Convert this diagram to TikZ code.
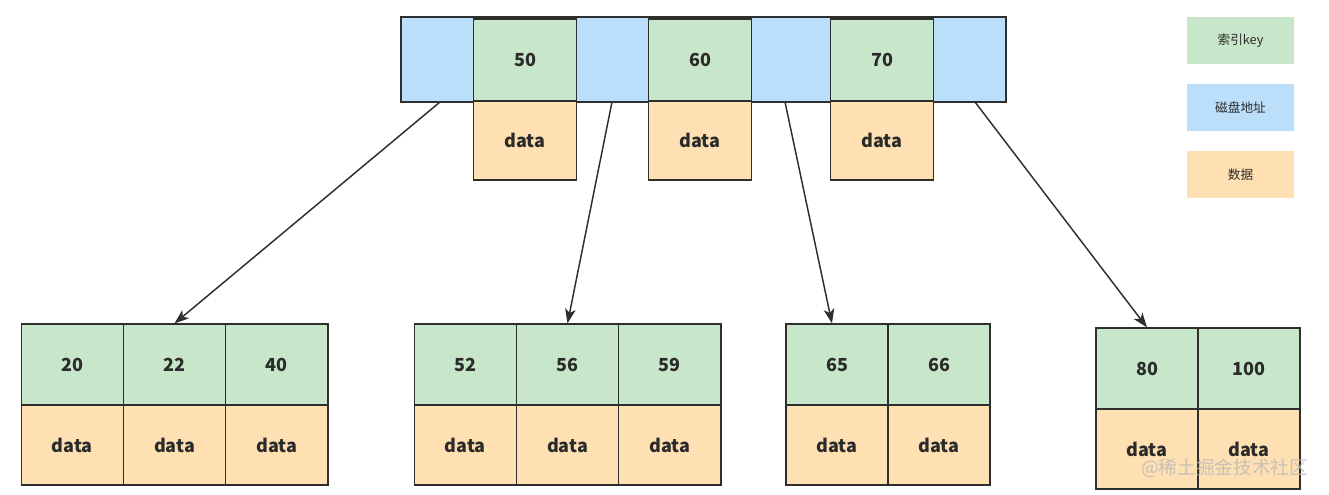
\documentclass[tikz,border=0pt]{standalone}
\usepackage{fontspec}
\setmainfont{Noto Sans CJK SC}
\usetikzlibrary{arrows.meta}
\definecolor{keyc}{HTML}{C8E6C9}
\definecolor{addrc}{HTML}{BBDEFB}
\definecolor{datac}{HTML}{FFE0B2}
\definecolor{linec}{HTML}{2E2E2E}
\definecolor{txtc}{HTML}{2B2B2B}
\tikzset{
  cell/.style={rectangle, draw=linec, line width=0.8pt, inner sep=0pt, text=txtc,
    font=\fontsize{13.5}{15}\selectfont\bfseries},
  keycell/.style={cell, fill=keyc, minimum width=76.75pt, minimum height=60.75pt},
  datacell/.style={cell, fill=datac, minimum width=76.75pt, minimum height=60pt},
  addrbar/.style={rectangle, draw=linec, line width=0.8pt, fill=addrc, inner sep=0pt,
    minimum width=453.75pt, minimum height=63.75pt},
  legend/.style={rectangle, inner sep=0pt, minimum width=80.25pt, minimum height=35.25pt,
    text=txtc, font=\fontsize{9.5}{11}\selectfont},
  link/.style={draw=linec, line width=1.1pt, -{Stealth[length=11pt,width=8pt,inset=3pt]}},
  wmtext/.style={text=gray!55, opacity=0.8, font=\fontsize{14}{16}\selectfont}
}
\begin{document}
\begin{tikzpicture}[x=0.75pt,y=-0.75pt]
\useasboundingbox (0,0) rectangle (1329,495);
% root node
\node[addrbar] (root) at (703.5,59.5) {};
\node[keycell, minimum height=61.5pt] (k50) at (525,60) {50};
\node[keycell, minimum height=61.5pt] (k60) at (700,60) {60};
\node[keycell, minimum height=61.5pt] (k70) at (882,60) {70};
\node[datacell, minimum height=59.25pt] (d50) at (525,140.5) {data};
\node[datacell, minimum height=59.25pt] (d60) at (700,140.5) {data};
\node[datacell, minimum height=59.25pt] (d70) at (882,140.5) {data};
% leaf 1
\node[keycell] (a1) at (72.2,364.5) {20};
\node[keycell] (a2) at (174.5,364.5) {22};
\node[keycell] (a3) at (276.8,364.5) {40};
\node[datacell] (ad1) at (72.2,445) {data};
\node[datacell] (ad2) at (174.5,445) {data};
\node[datacell] (ad3) at (276.8,445) {data};
% leaf 2
\node[keycell] (b1) at (465.2,364.5) {52};
\node[keycell] (b2) at (567.5,364.5) {56};
\node[keycell] (b3) at (669.8,364.5) {59};
\node[datacell] (bd1) at (465.2,445) {data};
\node[datacell] (bd2) at (567.5,445) {data};
\node[datacell] (bd3) at (669.8,445) {data};
% leaf 3
\node[keycell, minimum width=76.5pt] (c1) at (837,364.5) {65};
\node[keycell, minimum width=76.5pt] (c2) at (939,364.5) {66};
\node[datacell, minimum width=76.5pt] (cd1) at (837,445) {data};
\node[datacell, minimum width=76.5pt] (cd2) at (939,445) {data};
% leaf 4
\node[keycell, minimum width=76.5pt] (e1) at (1147,368.5) {80};
\node[keycell, minimum width=76.5pt] (e2) at (1249,368.5) {100};
\node[datacell, minimum width=76.5pt] (ed1) at (1147,449) {data};
\node[datacell, minimum width=76.5pt] (ed2) at (1249,449) {data};
% pointers
\coordinate (p0) at (440,102);
\coordinate (p1) at (612,102);
\coordinate (p2) at (785,102);
\coordinate (p3) at (975,102);
\draw[link] (p0) -- (a2.north);
\draw[link] (p1) -- (b2.north);
\draw[link] (p2) -- ([xshift=-3.75pt]c1.north);
\draw[link] (p3) -- (e1.north);
% legend
\node[legend, fill=keyc] (lk) at (1240.5,40.5) {索引key};
\node[legend, fill=addrc] (la) at (1240.5,107.5) {磁盘地址};
\node[legend, fill=datac] (ld) at (1240.5,175) {数据};
% watermark
\node[wmtext, anchor=east] (wm) at (1313,468) {@稀土掘金技术社区};
\end{tikzpicture}
\end{document}
